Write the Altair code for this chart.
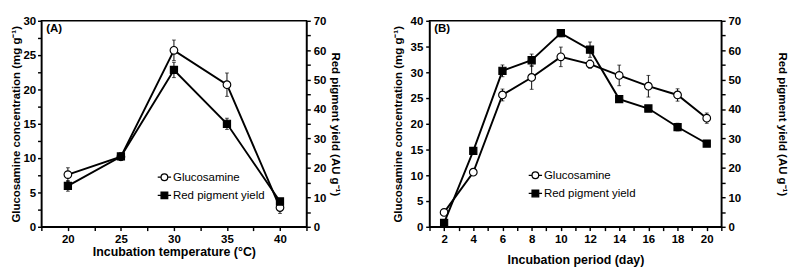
import altair as alt
import pandas as pd

# ---------------- data ----------------
series_names = ["Glucosamine", "Red pigment yield"]

temps = [20, 25, 30, 35, 40]
gluc_a = [7.6, 10.2, 25.7, 20.7, 2.8]
gluc_a_err = [1.0, 0.5, 1.5, 1.7, 0.85]
red_a = [13.9, 23.9, 53.3, 35.0, 8.6]
red_a_err = [1.8, 1.2, 2.6, 1.9, 0.7]

days = [2, 4, 6, 8, 10, 12, 14, 16, 18, 20]
gluc_b = [2.8, 10.6, 25.6, 29.0, 33.0, 31.6, 29.4, 27.3, 25.6, 21.1]
gluc_b_err = [0.3, 0.5, 1.15, 2.3, 1.9, 0.8, 2.0, 2.1, 1.2, 1.0]
red_b = [1.3, 25.8, 53.0, 56.6, 65.8, 60.2, 43.4, 40.2, 33.9, 28.3]
red_b_err = [0.4, 0.8, 2.0, 2.1, 1.2, 2.6, 0.9, 0.8, 1.3, 0.8]

left_title = "Glucosamine concentration (mg g\u207b\u00b9)"
right_title = "Red pigment yield (AU g\u207b\u00b9)"

FONT = "Liberation Sans"
PLOT_H = 216

circle_path = "M-1,0H-0.5M0.5,0H1M-0.5,0A0.5,0.5,0,1,1,0.5,0A0.5,0.5,0,1,1,-0.5,0Z"
square_path = "M-1,0H-0.5M0.5,0H1M-0.5,-0.5H0.5V0.5H-0.5Z"


def frame(xs, ys, errs):
    return pd.DataFrame({
        "x": xs,
        "y": ys,
        "lo": [v - e for v, e in zip(ys, errs)],
        "hi": [v + e for v, e in zip(ys, errs)],
    })


def series_layer(df, xscale, yscale, xaxis, yaxis, shape, fill, size):
    base = alt.Chart(df)
    X = alt.X("x:Q", scale=xscale, axis=xaxis)
    line = base.mark_line(color="black", strokeWidth=2).encode(
        x=X, y=alt.Y("y:Q", scale=yscale, axis=yaxis))
    rule = base.mark_rule(color="black", strokeWidth=1).encode(
        x=X, y=alt.Y("lo:Q", scale=yscale, axis=yaxis), y2="hi:Q")
    cap_lo = base.mark_tick(color="black", orient="horizontal", size=4, thickness=1).encode(
        x=X, y=alt.Y("lo:Q", scale=yscale, axis=yaxis))
    cap_hi = base.mark_tick(color="black", orient="horizontal", size=4, thickness=1).encode(
        x=X, y=alt.Y("hi:Q", scale=yscale, axis=yaxis))
    pts = base.mark_point(shape=shape, filled=True, fill=fill, stroke="black",
                          strokeWidth=1.2, size=size, opacity=1).encode(
        x=X, y=alt.Y("y:Q", scale=yscale, axis=yaxis))
    return [line, rule, cap_lo, cap_hi, pts]


def panel(xs, gl, gl_err, rd, rd_err, x_dom, x_ticks, x_label_mod, x_title,
          left_max, left_ticks, left_mod, width, tag, leg_x, leg_y,
          x_title_pad, left_title_pad, right_title_pad, left_label_pad):
    xscale = alt.Scale(domain=x_dom, nice=False, zero=False)
    lscale = alt.Scale(domain=[0, left_max], nice=False)
    rscale = alt.Scale(domain=[0, 70], nice=False)
    xaxis = alt.Axis(values=x_ticks, title=x_title, titleFontSize=13,
                     labelExpr=f"datum.value % {x_label_mod} == 0 ? datum.label : ''",
                     titlePadding=x_title_pad, labelPadding=3)
    laxis = alt.Axis(orient="left", values=left_ticks, title=left_title,
                     labelExpr=f"datum.value % {left_mod} == 0 ? datum.label : ''",
                     titlePadding=left_title_pad, labelPadding=left_label_pad)
    raxis = alt.Axis(orient="right", values=list(range(0, 75, 5)), title=right_title,
                     labelExpr="datum.value % 10 == 0 ? datum.label : ''",
                     titlePadding=right_title_pad, labelPadding=3)

    legend = alt.Legend(orient="none", legendX=leg_x, legendY=leg_y, title=None,
                        symbolSize=196, symbolStrokeWidth=1.3, symbolOpacity=1,
                        labelFont=FONT, labelFontSize=12, labelColor="black",
                        labelOffset=1, rowPadding=4)
    # legend carrier: two points placed below the axis range and clipped away
    leg_df = pd.DataFrame({"series": series_names, "x": [xs[0]] * 2,
                           "y": [-left_max, -left_max]})
    dummy = alt.Chart(leg_df).mark_point(filled=True, strokeWidth=1.3, clip=True).encode(
        x=alt.X("x:Q", scale=xscale, axis=xaxis),
        y=alt.Y("y:Q", scale=lscale, axis=laxis),
        shape=alt.Shape("series:N", scale=alt.Scale(domain=series_names,
                                                   range=[circle_path, square_path]),
                        legend=legend),
        fill=alt.Fill("series:N", scale=alt.Scale(domain=series_names,
                                                 range=["white", "black"]),
                      legend=legend),
        stroke=alt.Stroke("series:N", scale=alt.Scale(domain=series_names,
                                                     range=["black", "black"]),
                          legend=legend),
    )
    tag_df = pd.DataFrame({"t": [tag]})
    tag_text = alt.Chart(tag_df).mark_text(align="left", baseline="middle", font=FONT,
                                           fontSize=12, fontWeight="bold",
                                           color="black").encode(
        text="t:N", x=alt.value(5), y=alt.value(8))

    left = alt.layer(*series_layer(frame(xs, gl, gl_err), xscale, lscale, xaxis, laxis,
                                   "circle", "white", 64), dummy, tag_text)
    right = alt.layer(*series_layer(frame(xs, rd, rd_err), xscale, rscale, xaxis, raxis,
                                    "square", "black", 56))
    return alt.layer(left, right).resolve_scale(y="independent").properties(
        width=width, height=PLOT_H)


pa = panel(temps, gluc_a, gluc_a_err, red_a, red_a_err,
           [17.5, 42.5], [17.5 + 2.5 * i for i in range(11)], 5,
           "Incubation temperature (\u00b0C)",
           30, [2.5 * i for i in range(13)], 5, 278, "(A)", 121, 156,
           2, 1, 3, 2)

pb = panel(days, gluc_b, gluc_b_err, red_b, red_b_err,
           [1, 21], list(range(1, 22)), 2,
           "Incubation period (day)",
           40, list(range(0, 45, 5)), 5, 306, "(B)", 103, 154,
           10, 6, 37, 3)

chart = alt.hconcat(pa, pb, spacing=50).resolve_scale(
    shape="independent", fill="independent", stroke="independent"
).resolve_legend(shape="independent", fill="independent", stroke="independent").properties(
    padding=0
).configure_axis(
    domainColor="black", domainWidth=1.5, tickColor="black", tickWidth=1.5, tickSize=4,
    labelFont=FONT, labelFontSize=12, labelFontWeight="bold", labelColor="black",
    titleFont=FONT, titleFontSize=12, titleFontWeight="bold", titleColor="black",
    grid=False,
).configure_view(stroke="black", strokeWidth=1.5)

chart.save("out.html", embed_options={"renderer": "svg", "actions": False})
